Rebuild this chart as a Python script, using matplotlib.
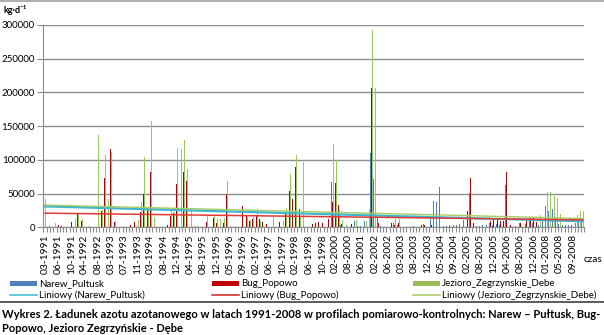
import matplotlib
matplotlib.use('Agg')
import matplotlib.pyplot as plt
from matplotlib.patches import Rectangle
import numpy as np

plt.rcParams['font.family'] = ['Lato', 'DejaVu Sans']

narew = [
    0, 0, 0, 0, 0, 0, 0, 0, 0, 0,
    0, 0, 0, 0, 0, 0, 0, 0, 0, 0,
    0, 0, 0, 0, 0, 0, 0, 0, 0, 0,
    0, 0, 0, 0, 0, 0, 0, 0, 0, 0,
    0, 0, 0, 0, 0, 0, 0, 0, 0, 0,
    0, 0, 0, 0, 0, 0, 0, 0, 0, 0,
    0, 0, 0, 0, 0, 0, 0, 0, 0, 0,
    0, 0, 0, 0, 0, 0, 0, 0, 0, 0,
    0, 0, 0, 0, 0, 0, 0, 67000, 0, 0,
    4000, 0, 0, 0, 9000, 2000, 2000, 10000, 0, 110000,
    72000, 17000, 2000, 0, 0, 0, 6000, 3500, 0, 0,
    0, 0, 1500, 0, 0, 4500, 0, 13000, 39000, 37500,
    59500, 2500, 2500, 3000, 3500, 4000, 5000, 11000, 0, 51000,
    0, 2500, 2500, 3000, 3000, 6000, 4000, 5000, 3000, 0,
    62000, 0, 0, 2000, 6000, 0, 5000, 11000, 7000, 0,
    3000, 9000, 32000, 23500, 27500, 15000, 5000, 3000, 3000, 3000,
    3000, 7000, 8500, 8500,
]
bug = [
    0, 0, 0, 0, 3500, 2000, 0, 0, 7500, 0,
    20000, 10000, 0, 0, 0, 0, 0, 24000, 72500, 0,
    116000, 8000, 0, 0, 0, 0, 3500, 7500, 0, 23000,
    49500, 26000, 82000, 0, 0, 0, 0, 3500, 17000, 21000,
    64000, 0, 82000, 68500, 0, 0, 0, 0, 0, 8000,
    0, 14500, 7000, 0, 7000, 49500, 0, 0, 0, 0,
    32000, 18500, 10000, 12000, 18500, 12000, 8500, 5000, 0, 0,
    0, 7500, 0, 21000, 53500, 42500, 90000, 27000, 0, 0,
    0, 4500, 6000, 7500, 6000, 0, 13000, 37000, 65000, 33500,
    5000, 0, 0, 5000, 0, 0, 0, 0, 0, 206000,
    0, 6000, 0, 0, 0, 6000, 3500, 6000, 0, 0,
    0, 0, 0, 0, 3500, 3500, 0, 3500, 0, 0,
    0, 0, 0, 0, 0, 0, 0, 0, 24000, 73000,
    6000, 0, 0, 0, 0, 10000, 11000, 13500, 10000, 10000,
    82000, 3500, 0, 0, 7000, 0, 11000, 15000, 15000, 8000,
    0, 0, 0, 0, 0, 0, 0, 0, 0, 0,
    0, 0, 0, 0,
]
jezioro = [
    42000, 3000, 0, 6000, 0, 0, 0, 0, 0, 12000,
    19000, 12500, 1000, 2000, 0, 0, 137000, 26000, 107000, 42000,
    112000, 10000, 0, 0, 0, 0, 0, 0, 11000, 37000,
    104000, 27000, 157000, 15000, 0, 0, 0, 0, 27000, 23000,
    118000, 116000, 129500, 87000, 27500, 1500, 1500, 0, 0, 18500,
    0, 17000, 12000, 12000, 13500, 68500, 2000, 0, 0, 0,
    0, 15000, 11000, 15000, 27500, 10000, 0, 0, 0, 15000,
    0, 0, 10000, 28500, 78500, 0, 107000, 15000, 97000, 0,
    0, 0, 0, 0, 0, 0, 0, 123500, 100000, 26000,
    11000, 4000, 0, 0, 11000, 0, 0, 10000, 27000, 292000,
    207000, 0, 0, 0, 0, 0, 12000, 12000, 0, 0,
    0, 0, 0, 0, 0, 0, 0, 0, 0, 0,
    0, 0, 0, 0, 0, 0, 0, 0, 0, 0,
    0, 0, 0, 0, 0, 0, 0, 0, 0, 0,
    0, 0, 0, 0, 0, 0, 0, 0, 0, 0,
    18000, 0, 52000, 52000, 46000, 43500, 19500, 0, 0, 0,
    0, 18500, 24500, 24500,
]
# linear trend (Excel "Liniowy"), value at first and last measurement
narew_trend = [31000, 9000]
bug_trend = [21000, 11000]
jezioro_trend = [33000, 13000]

tick_labels = ['03-1991', '06-1991', '10-1991', '04-1992', '08-1992', '03-1993',
               '07-1993', '11-1993', '03-1994', '08-1994', '12-1994', '04-1995',
               '08-1995', '12-1995', '05-1996', '09-1996', '02-1997', '06-1997',
               '10-1997', '02-1998', '06-1998', '10-1998', '02-2000', '08-2000',
               '06-2001', '02-2002', '06-2002', '03-2003', '08-2003', '12-2003',
               '05-2004', '09-2004', '02-2005', '08-2005', '12-2005', '04-2006',
               '08-2006', '12-2006', '01-2008', '05-2008', '09-2008']

c_blue = '#4F81BD'
c_red = '#9A0A0A'
c_green = '#9CC65E'
t_blue = '#3FB6CF'
t_red = '#E03A32'
t_green = '#A6CC62'
grid_c = '#8C8C8C'

n = len(narew)
x = np.arange(n)
w = 0.3

fig = plt.figure(figsize=(6.04, 3.35), dpi=100)
ax = fig.add_axes([0.0717, 0.3215, 0.8960, 0.6039])

ax.bar(x - w, narew, width=w, color=c_blue, lw=0, zorder=3)
ax.bar(x, bug, width=w, color=c_red, lw=0, zorder=3)
ax.bar(x + w, jezioro, width=w, color=c_green, lw=0, zorder=3)

ends = [0, n - 1]
ax.plot(ends, narew_trend, color=t_blue, lw=1.6, zorder=4)
ax.plot(ends, jezioro_trend, color=t_green, lw=1.0, zorder=4)
ax.plot(ends, bug_trend, color=t_red, lw=1.1, zorder=4)

ax.set_xlim(-0.5, n - 0.5)
ax.set_ylim(0, 300000)
ax.set_yticks(np.arange(0, 300001, 50000))
ax.yaxis.grid(True, color=grid_c, lw=1.0)
ax.set_axisbelow(True)
ax.tick_params(axis='y', length=4, color=grid_c, labelsize=7, pad=2)

ax.set_xticks(np.arange(0, n, 4))
ax.set_xticklabels(tick_labels, rotation=90, fontsize=7.4)
ax.set_xticks(np.arange(-0.5, n, 1), minor=True)
ax.tick_params(axis='x', which='major', length=0, pad=5)
ax.tick_params(axis='x', which='minor', length=3.5, color=grid_c, width=0.8)

for s in ['top', 'right']:
    ax.spines[s].set_visible(False)
for s in ['left', 'bottom']:
    ax.spines[s].set_color(grid_c)

# overlay in pixel coordinates for the legend, labels and caption
ov = fig.add_axes([0, 0, 1, 1], zorder=10)
ov.set_xlim(0, 604)
ov.set_ylim(335, 0)
ov.axis('off')

ov.text(3, 10, 'kg·d⁻¹', fontsize=6.5, fontweight='bold', va='center')
ov.text(584, 260, 'czas', fontsize=7.2, va='center')

ov.plot([0, 604], [1, 1], color='#A0A0A0', lw=1.2)
ov.plot([0, 604], [302, 302], color='#404040', lw=1.2)

legend_cols = [10, 212, 413]
bar_cols = [c_blue, '#C00000', '#9BBB59']
line_cols = [t_blue, '#D02020', t_green]
names = ['Narew_Pultusk', 'Bug_Popowo', 'Jezioro_Zegrzynskie_Debe']
for lx, bc, lc, nm in zip(legend_cols, bar_cols, line_cols, names):
    ov.add_patch(Rectangle((lx, 281), 27, 5, color=bc, lw=0))
    ov.text(lx + 29, 283.5, nm, fontsize=7, va='center')
    ov.plot([lx, lx + 27], [295, 295], color=lc, lw=1.1)
    ov.text(lx + 29, 295.5, 'Liniowy (' + nm + ')', fontsize=7, va='center')

ov.text(2, 314, 'Wykres 2. Ładunek azotu azotanowego w latach 1991-2008 w profilach '
        'pomiarowo-kontrolnych: Narew – Pułtusk, Bug-',
        fontsize=8, fontweight='bold', va='center')
ov.text(2, 328, 'Popowo, Jezioro Zegrzyńskie - Dębe',
        fontsize=8, fontweight='bold', va='center')

fig.savefig('out.png', dpi=100)
